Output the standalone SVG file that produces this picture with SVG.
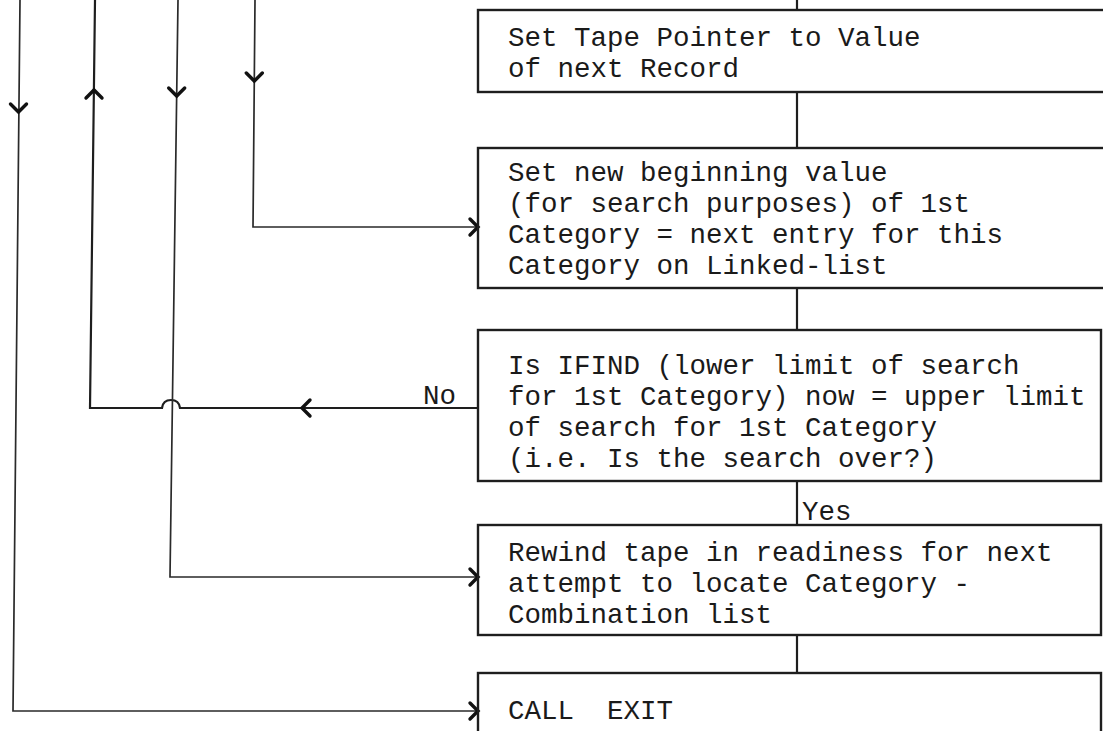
<svg xmlns="http://www.w3.org/2000/svg" width="1103" height="731" viewBox="0 0 1103 731">
  <defs>
    <style>
      .box { fill: none; stroke: #1e1e1e; stroke-width: 2.4; }
      .ln { fill: none; stroke: #1e1e1e; stroke-width: 2.2; }
      .thin { fill: none; stroke: #2a2a2a; stroke-width: 1.7; }
      .chev { fill: none; stroke: #111; stroke-width: 3.4; stroke-linecap: round; stroke-linejoin: miter; }
      .t { font-family: "Liberation Mono", "DejaVu Sans Mono", monospace; font-size: 27.5px; fill: #1a1a1a; white-space: pre; }
    </style>
    <path id="chev" class="chev" d="M-8,-8 L0,0 L-8,8"/>
  </defs>
  <rect width="1103" height="731" fill="#ffffff"/>

  <g id="connectors">
    <path class="ln" d="M797,0 V10 M797,92 V148 M797,288 V330 M797,481 V525 M797,635 V673"/>
    <text class="t" x="802" y="520">Yes</text>
    <path class="thin" d="M20,0 L13,711 L478,711"/>
    <use href="#chev" transform="translate(18.5,112) rotate(90)"/>
    <use href="#chev" transform="translate(478,711)"/>
    <path class="ln" d="M478,408 L180,408 Q179,400 171,400 Q163,400 162,408 L90,408 L95,0"/>
    <use href="#chev" transform="translate(94,90) rotate(-90)"/>
    <use href="#chev" transform="translate(302,408) rotate(180)"/>
    <text class="t" x="423" y="404">No</text>
    <path class="thin" d="M178,0 L170,577 L478,577"/>
    <use href="#chev" transform="translate(176.7,96) rotate(90)"/>
    <use href="#chev" transform="translate(478,577)"/>
    <path class="thin" d="M255,0 L253,227 L478,227"/>
    <use href="#chev" transform="translate(254.3,81) rotate(90)"/>
    <use href="#chev" transform="translate(478,227)"/>
  </g>

  <g id="node-set-tape-pointer">
    <rect class="box" x="478" y="10" width="640" height="82"/>
    <text class="t" x="508" y="46">Set Tape Pointer to Value</text>
    <text class="t" x="508" y="77">of next Record</text>
  </g>

  <g id="node-set-new-beginning">
    <rect class="box" x="478" y="148" width="640" height="140"/>
    <text class="t" x="508" y="181">Set new beginning value</text>
    <text class="t" x="508" y="212">(for search purposes) of 1st</text>
    <text class="t" x="508" y="243">Category = next entry for this</text>
    <text class="t" x="508" y="274">Category on Linked-list</text>
  </g>

  <g id="node-is-ifind">
    <rect class="box" x="478" y="330" width="623" height="151"/>
    <text class="t" x="508" y="374">Is IFIND (lower limit of search</text>
    <text class="t" x="508" y="405">for 1st Category) now = upper limit</text>
    <text class="t" x="508" y="436">of search for 1st Category</text>
    <text class="t" x="508" y="467">(i.e. Is the search over?)</text>
  </g>

  <g id="node-rewind">
    <rect class="box" x="478" y="525" width="623" height="110"/>
    <text class="t" x="508" y="561">Rewind tape in readiness for next</text>
    <text class="t" x="508" y="592">attempt to locate Category -</text>
    <text class="t" x="508" y="623">Combination list</text>
  </g>

  <g id="node-call-exit">
    <rect class="box" x="478" y="673" width="623" height="80"/>
    <text class="t" x="508" y="719">CALL  EXIT</text>
  </g>
</svg>
